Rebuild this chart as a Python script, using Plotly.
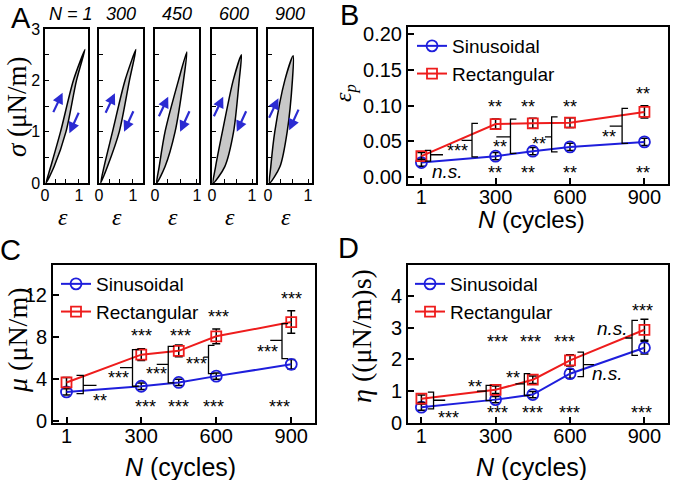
import plotly.graph_objects as go

W, H = 677, 480

def PX(p):
    return p / W

def PY(p):
    return 1 - p / H

# ---------------- Panel A : hysteresis loops ----------------
loop_titles = ["N = 1", "300", "450", "600", "900"]
loop_xrange = [1.27, 1.30, 1.05, 1.10, 1.10]
load_strain = [
    [0.03, 0.17, 0.46, 0.84, 1.18],
    [0.05, 0.15, 0.40, 0.77, 1.09],
    [0.04, 0.10, 0.24, 0.56, 0.76],
    [0.03, 0.09, 0.26, 0.53, 0.735],
    [0.04, 0.07, 0.17, 0.42, 0.63],
]
load_stress = [
    [0, 0.32, 1.0, 2.0, 2.60],
    [0, 0.32, 1.0, 2.0, 2.60],
    [0, 0.32, 1.0, 2.0, 2.55],
    [0, 0.32, 1.0, 2.0, 2.50],
    [0, 0.32, 1.0, 2.0, 2.48],
]
unload_strain = [
    [0.93, 0.62, 0.27, 0.03],
    [0.90, 0.60, 0.25, 0.05],
    [0.68, 0.48, 0.24, 0.04],
    [0.68, 0.54, 0.32, 0.03],
    [0.61, 0.48, 0.30, 0.04],
]
unload_stress = [
    [2.0, 1.0, 0.32, 0],
    [2.0, 1.0, 0.32, 0],
    [2.0, 1.0, 0.32, 0],
    [2.0, 1.0, 0.32, 0],
    [2.0, 1.0, 0.32, 0],
]
up_arrow_head = [(0.52, 1.76), (0.47, 1.75), (0.315, 1.68), (0.28, 1.68), (0.26, 1.65)]
down_arrow_head = [(0.72, 0.97), (0.74, 1.00), (0.60, 1.00), (0.62, 1.00), (0.53, 1.03)]
A_boxes_px = [(45, 88), (99, 143), (155, 199), (212, 256), (268, 312)]

# ---------------- Panels B, C, D ----------------
N_cycles = [1, 300, 450, 600, 900]
N_ticks = [1, 300, 600, 900]

eps_sin = [0.020, 0.029, 0.036, 0.042, 0.049]
eps_sin_err = [0.005, 0.005, 0.005, 0.005, 0.005]
eps_rect = [0.029, 0.074, 0.075, 0.076, 0.091]
eps_rect_err = [0.005, 0.007, 0.007, 0.007, 0.0085]

mu_sin = [2.80, 3.34, 3.70, 4.30, 5.42]
mu_sin_err = [0.30, 0.30, 0.30, 0.30, 0.45]
mu_rect = [3.70, 6.34, 6.70, 8.08, 9.43]
mu_rect_err = [0.47, 0.55, 0.55, 0.70, 1.07]

eta_sin = [0.49, 0.73, 0.89, 1.55, 2.37]
eta_sin_err = [0.10, 0.10, 0.10, 0.14, 0.20]
eta_rect = [0.76, 1.04, 1.36, 1.97, 2.94]
eta_rect_err = [0.12, 0.12, 0.12, 0.18, 0.33]

# brackets: (x of vertical, top, bottom, cap end x, tick end x, tick y)
B_brackets = [(38, 0.037, 0.022, 15, 88, 0.031),
              (205, 0.075, 0.028, 229, 163, 0.051),
              (360, 0.081, 0.033, 384, 303, 0.056),
              (526, 0.084, 0.035, 550, 499, 0.056),
              (810, 0.096, 0.047, 834, 760, 0.071)]
B_sig_text = ["<i>n.s.</i>", "***", "**", "**", "**"]
B_sig_x = [108, 147, 316, 474, 759]
B_sig_y = [0.007, 0.042, 0.047, 0.052, 0.061]
B_top_text = ["**", "**", "**", "**"]
B_top_x = [296, 430, 598, 893]
B_top_y = [0.103, 0.103, 0.103, 0.122]
B_bot_text = ["**", "**", "**", "**"]
B_bot_x = [296, 430, 598, 893]
B_bot_y = [0.011, 0.011, 0.011, 0.011]

C_brackets = [(68, 4.38, 2.64, 41, 121, 3.43),
              (265, 6.82, 3.34, 290, 215, 5.10),
              (408, 7.13, 3.65, 432, 362, 5.42),
              (569, 7.22, 4.54, 593, 549, 6.11),
              (863, 9.28, 5.96, 887, 816, 7.70)]
C_sig_text = ["**", "***", "***", "***", "***"]
C_sig_x = [134, 208, 362, 522, 803]
C_sig_y = [2.30, 4.54, 4.92, 5.80, 7.00]
C_top_text = ["***", "***", "***", "***"]
C_top_x = [302, 455, 609, 900]
C_top_y = [8.48, 8.48, 10.3, 11.96]
C_bot_text = ["***", "***", "***", "***"]
C_bot_x = [315, 448, 589, 852]
C_bot_y = [1.75, 1.75, 1.75, 1.75]

D_brackets = [(50, 0.97, 0.44, 27, 97, 0.71),
              (262, 1.18, 0.70, 285, 225, 1.00),
              (416, 1.55, 0.86, 440, 380, 1.23),
              (654, 2.23, 1.46, 630, 697, 1.84),
              (850, 3.24, 2.13, 874, 823, 2.68)]
D_sig_text = ["***", "**", "**", "<i>n.s.</i>", "<i>n.s.</i>"]
D_sig_x = [110, 218, 369, 750, 770]
D_sig_y = [0.26, 1.26, 1.55, 1.55, 2.97]
D_top_text = ["***", "***", "***", "***"]
D_top_x = [308, 442, 578, 893]
D_top_y = [2.68, 2.68, 2.68, 3.66]
D_bot_text = ["***", "***", "***", "***"]
D_bot_x = [308, 448, 599, 889]
D_bot_y = [0.44, 0.44, 0.44, 0.44]

BLUE = "#1e1edc"
RED = "#ee1c1c"
ARROW = "#2b2bd2"
SANS = "Liberation Sans, Arial, sans-serif"
SERIF = "Liberation Serif, Times New Roman, serif"

fig = go.Figure()
annotations = []
shapes = []
layout = dict(width=W, height=H, margin=dict(l=0, r=0, t=0, b=0, pad=0, autoexpand=False),
              paper_bgcolor="white", plot_bgcolor="white", showlegend=True,
              font=dict(family=SANS, color="black"))

def axname(i):
    return "" if i == 1 else str(i)

def label(x, y, text, size, family=SANS, angle=0):
    return dict(x=PX(x), y=PY(y), xref="paper", yref="paper", text=text,
                xanchor="center", yanchor="middle", textangle=angle,
                showarrow=False, font=dict(size=size, family=family))

# ---- Panel A axes and loops
for i in range(5):
    k = i + 1
    xa, ya = "x" + axname(k), "y" + axname(k)
    x0, x1 = A_boxes_px[i]
    layout["xaxis" + axname(k)] = dict(
        domain=[PX(x0), PX(x1)], anchor=ya, range=[0, loop_xrange[i]],
        showline=True, linecolor="black", linewidth=1.5, mirror=True,
        ticks="inside", ticklen=4, tickwidth=1, tickcolor="black",
        tickvals=[0, 0.3, 0.6, 1], ticktext=["0", "", "", "1"],
        tickfont=dict(size=16, family=SANS), showgrid=False, zeroline=False,
        fixedrange=True, automargin=False, ticklabelstandoff=-3)
    layout["yaxis" + axname(k)] = dict(
        domain=[PY(183), PY(29)], anchor=xa, range=[0, 3],
        showline=True, linecolor="black", linewidth=1.5, mirror=True,
        ticks="inside", ticklen=4, tickwidth=1, tickcolor="black",
        tickvals=[0, 0.5, 1, 1.5, 2, 2.5, 3], ticktext=["0", "", "1", "", "2", "", "3"],
        showticklabels=(k == 1), tickfont=dict(size=16, family=SANS),
        showgrid=False, zeroline=False, fixedrange=True, automargin=False)
    fig.add_trace(go.Scatter(
        x=load_strain[i] + unload_strain[i], y=load_stress[i] + unload_stress[i],
        mode="lines", fill="toself", fillcolor="#c8c8c8",
        line=dict(color="black", width=1.5, shape="spline", smoothing=0.8),
        showlegend=False, hoverinfo="skip", xaxis=xa, yaxis=ya))
    hx, hy = up_arrow_head[i]
    annotations.append(dict(x=hx, y=hy, xref=xa, yref=ya, ax=-10, ay=21, text="",
                            showarrow=True, arrowhead=2, arrowsize=1, arrowwidth=2.2,
                            arrowcolor=ARROW))
    hx, hy = down_arrow_head[i]
    annotations.append(dict(x=hx, y=hy, xref=xa, yref=ya, ax=10, ay=-22, text="",
                            showarrow=True, arrowhead=2, arrowsize=1, arrowwidth=2.2,
                            arrowcolor=ARROW))
    title_x = (x0 + x1) / 2 + (4 if i == 0 else 0)
    annotations.append(label(title_x, 14, "<i>" + loop_titles[i] + "</i>", 18))
    annotations.append(label((x0 + x1) / 2 - 4, 217, "<i>ε</i>", 24, SERIF))

annotations.append(label(17, 107, "<i>σ</i> (μN/m)", 27, SERIF, -90))

# ---- Panels B, C, D
panels = [
    dict(k=6, xdom=(408, 668), ydom=(27, 184), yr=[-0.01, 0.21],
         yt=[0, 0.05, 0.10, 0.15, 0.20], ytt=["0.00", "0.05", "0.10", "0.15", "0.20"],
         sin=eps_sin, sin_err=eps_sin_err, rect=eps_rect, rect_err=eps_rect_err,
         legend="legend", leg=(412, 27), br=B_brackets,
         sig=(B_sig_text, B_sig_x, B_sig_y), top=(B_top_text, B_top_x, B_top_y),
         bot=(B_bot_text, B_bot_x, B_bot_y)),
    dict(k=7, xdom=(53, 315), ydom=(265, 423), yr=[-0.15, 14.85],
         yt=[0, 4, 8, 12], ytt=["0", "4", "8", "12"],
         sin=mu_sin, sin_err=mu_sin_err, rect=mu_rect, rect_err=mu_rect_err,
         legend="legend2", leg=(56, 265), br=C_brackets,
         sig=(C_sig_text, C_sig_x, C_sig_y), top=(C_top_text, C_top_x, C_top_y),
         bot=(C_bot_text, C_bot_x, C_bot_y)),
    dict(k=8, xdom=(408, 668), ydom=(265, 423), yr=[-0.01, 4.99],
         yt=[0, 1, 2, 3, 4, 5], ytt=["0", "1", "2", "3", "4", "5"],
         sin=eta_sin, sin_err=eta_sin_err, rect=eta_rect, rect_err=eta_rect_err,
         legend="legend3", leg=(410, 265), br=D_brackets,
         sig=(D_sig_text, D_sig_x, D_sig_y), top=(D_top_text, D_top_x, D_top_y),
         bot=(D_bot_text, D_bot_x, D_bot_y)),
]

for p in panels:
    k = p["k"]
    xa, ya = "x" + str(k), "y" + str(k)
    layout["xaxis" + str(k)] = dict(
        domain=[PX(p["xdom"][0]), PX(p["xdom"][1])], anchor=ya, range=[-53, 995],
        showline=True, linecolor="black", linewidth=2, mirror=True,
        ticks="inside", ticklen=6, tickwidth=1.5, tickcolor="black",
        tickvals=N_ticks, tickfont=dict(size=20, family=SANS),
        showgrid=False, zeroline=False, fixedrange=True, automargin=False,
        ticklabelstandoff=-6)
    layout["yaxis" + str(k)] = dict(
        domain=[PY(p["ydom"][1]), PY(p["ydom"][0])], anchor=xa, range=p["yr"],
        showline=True, linecolor="black", linewidth=2, mirror=True,
        ticks="inside", ticklen=6, tickwidth=1.5, tickcolor="black",
        tickvals=p["yt"], ticktext=p["ytt"], tickfont=dict(size=20, family=SANS),
        showgrid=False, zeroline=False, fixedrange=True, automargin=False)
    fig.add_trace(go.Scatter(
        x=N_cycles, y=p["sin"], name="Sinusoidal", mode="lines+markers",
        line=dict(color=BLUE, width=2),
        marker=dict(symbol="circle-open", size=11, color=BLUE, line=dict(width=1.8)),
        error_y=dict(type="data", array=p["sin_err"], color="black", thickness=1.5, width=4),
        legend=p["legend"], xaxis=xa, yaxis=ya, hoverinfo="skip"))
    fig.add_trace(go.Scatter(
        x=N_cycles, y=p["rect"], name="Rectangular", mode="lines+markers",
        line=dict(color=RED, width=2),
        marker=dict(symbol="square-open", size=10, color=RED, line=dict(width=1.8)),
        error_y=dict(type="data", array=p["rect_err"], color="black", thickness=1.5, width=4),
        legend=p["legend"], xaxis=xa, yaxis=ya, hoverinfo="skip"))
    layout[p["legend"]] = dict(x=PX(p["leg"][0]), y=PY(p["leg"][1]), xanchor="left",
                               yanchor="top", bgcolor="rgba(0,0,0,0)",
                               font=dict(size=19, family=SANS), tracegroupgap=0,
                               itemwidth=30)
    for (xv, yt_, yb_, xc, xt, ym) in p["br"]:
        path = (f"M {xc},{yt_} L {xv},{yt_} L {xv},{yb_} L {xc},{yb_} "
                f"M {xv},{ym} L {xt},{ym}")
        shapes.append(dict(type="path", path=path, xref=xa, yref=ya,
                           line=dict(color="black", width=1.3)))
    for group in (p["sig"], p["top"], p["bot"]):
        for t, x, y in zip(*group):
            star = "*" in t
            annotations.append(dict(x=x, y=y, xref=xa, yref=ya, text=t, showarrow=False,
                                    xanchor="center", yanchor="middle",
                                    yshift=-4 if star else 0,
                                    font=dict(size=18 if star else 19, family=SANS)))

# axis titles
annotations += [
    label(345, 93, "<i>ε<sub>p</sub></i>", 24, SERIF, -90),
    label(531, 220, "<i>N</i> (cycles)", 24),
    label(17, 340, "<i>μ</i> (μN/m)", 28, SERIF, -90),
    label(180, 467, "<i>N</i> (cycles)", 25),
    label(361, 336, "<i>η</i> ((μN/m)s)", 28, SERIF, -90),
    label(531, 467, "<i>N</i> (cycles)", 25),
]
# panel letters
for letter, (lx, ly) in zip(["A", "B", "C", "D"], [(21, 18), (349, 15), (11, 250), (348, 248)]):
    annotations.append(label(lx, ly, letter, 29))

layout["annotations"] = annotations
layout["shapes"] = shapes
fig.update_layout(**layout)
fig.write_html("out.html", config={"displayModeBar": False},
               post_script="document.body.style.margin='0';")
